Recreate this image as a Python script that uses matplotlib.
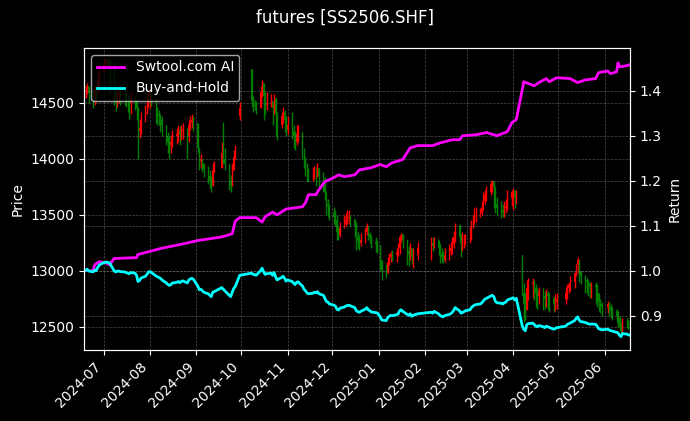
import matplotlib
matplotlib.use("Agg")
import matplotlib.pyplot as plt
import matplotlib.dates as mdates
import numpy as np
import pandas as pd

title = "futures [SS2506.SHF]"
holidays = ["2024-09-16", "2024-09-17", "2024-10-01", "2024-10-02", "2024-10-03",
            "2024-10-04", "2024-10-07", "2025-01-01", "2025-01-28", "2025-01-29",
            "2025-01-30", "2025-01-31", "2025-02-03", "2025-02-04", "2025-04-04",
            "2025-05-01", "2025-05-02", "2025-05-05", "2025-06-02"]

opens = [
    14560, 14600, 14610, 14650, 14590, 14560, 14620, 14600, 14700,
    14780, 14860, 14870, 14880, 14860, 14850, 14600, 14560, 14580, 14590, 14570, 14560, 14540, 14520, 14500, 14540, 14520, 14450, 14250, 14280, 14360, 14420, 14480,
    14560, 14570, 14540, 14430, 14400, 14380, 14350, 14300, 14200, 14150, 14120, 14150, 14200, 14220, 14250, 14210, 14250, 14270, 14200, 14300, 14330, 14350,
    14320, 14100, 13980, 14000, 13950, 13900, 13850, 13800, 13760, 13900, 13920, 14050, 14000, 13950, 13800, 13760, 13900, 14020, 14380,
    14800, 14520, 14480, 14470, 14450, 14600, 14680, 14560, 14480, 14500, 14520, 14450, 14540, 14400, 14300, 14380, 14420, 14350,
    14260, 14300, 14250, 14200, 14150, 14220, 14240, 14100, 14000, 13950, 13880, 13850, 13870, 13900, 13880, 13920, 13850, 13800, 13700, 13600, 13580,
    13520, 13480, 13450, 13350, 13320, 13380, 13420, 13450, 13470, 13480, 13460, 13400, 13300, 13270, 13250, 13280, 13350, 13400, 13330, 13300, 13260, 13240,
    13230, 13100, 13000, 12980, 13080, 13120, 13150, 13140, 13170, 13200, 13300, 13330, 13280, 13180, 13150, 13200, 13120, 13150,
    13200, 13250, 13220, 13280, 13200, 13150, 13120, 13100, 13140, 13180, 13200, 13240, 13300, 13400, 13300, 13220, 13240, 13270,
    13300, 13330, 13400, 13450, 13480, 13500, 13520, 13560, 13620, 13680, 13700, 13780, 13800, 13750, 13600, 13560, 13540, 13520, 13560, 13580, 13650,
    13700, 13720, 13650, 13140, 12800, 12700, 12650, 12850, 12880, 12900, 12850, 12800, 12780, 12820, 12780, 12750, 12800, 12780, 12760, 12700, 12720,
    12750, 12800, 12850, 12880, 12900, 12980, 13050, 13100, 13000, 12950, 12920, 12900, 12880, 12860, 12870, 12860, 12800, 12720, 12700,
    12680, 12700, 12680, 12650, 12640, 12600, 12580, 12500, 12460, 12560, 12540, 12520,
]
closes = [
    14600, 14610, 14650, 14590, 14560, 14620, 14600, 14700, 14780,
    14860, 14870, 14880, 14860, 14850, 14600, 14560, 14580, 14590, 14570, 14560, 14540, 14520, 14500, 14540, 14520, 14450, 14250, 14280, 14360, 14420, 14480, 14560,
    14570, 14540, 14430, 14400, 14380, 14350, 14300, 14200, 14150, 14120, 14150, 14200, 14220, 14250, 14210, 14250, 14270, 14200, 14300, 14330, 14350, 14320,
    14100, 13980, 14000, 13950, 13900, 13850, 13800, 13760, 13900, 13920, 14050, 14000, 13950, 13800, 13760, 13900, 14020, 14080, 14450,
    14520, 14480, 14470, 14450, 14600, 14680, 14560, 14480, 14500, 14520, 14450, 14540, 14400, 14300, 14380, 14420, 14350, 14260,
    14300, 14250, 14200, 14150, 14220, 14240, 14100, 14000, 13950, 13880, 13850, 13870, 13900, 13880, 13920, 13850, 13800, 13700, 13600, 13580, 13520,
    13480, 13450, 13350, 13320, 13380, 13420, 13450, 13470, 13480, 13460, 13400, 13300, 13270, 13250, 13280, 13350, 13400, 13330, 13300, 13260, 13240, 13230,
    13100, 13000, 12980, 13080, 13120, 13150, 13140, 13170, 13200, 13300, 13330, 13280, 13180, 13150, 13200, 13120, 13150, 13200,
    13250, 13220, 13280, 13200, 13150, 13120, 13100, 13140, 13180, 13200, 13240, 13300, 13400, 13300, 13220, 13240, 13270, 13300,
    13330, 13400, 13450, 13480, 13500, 13520, 13560, 13620, 13680, 13700, 13780, 13800, 13750, 13600, 13560, 13540, 13520, 13560, 13580, 13650, 13700,
    13720, 13650, 13700, 12800, 12700, 12650, 12850, 12880, 12900, 12850, 12800, 12780, 12820, 12780, 12750, 12800, 12780, 12760, 12700, 12720, 12750,
    12800, 12850, 12880, 12900, 12980, 13050, 13100, 13000, 12950, 12920, 12900, 12880, 12860, 12870, 12860, 12800, 12720, 12700, 12680,
    12700, 12680, 12650, 12640, 12600, 12580, 12500, 12460, 12560, 12540, 12520, 12500,
]
highs = [
    14660, 14650, 14680, 14640, 14620, 14660, 14650, 14760, 14840,
    14890, 14890, 14895, 14890, 14880, 14860, 14640, 14640, 14660, 14640, 14620, 14600, 14580, 14560, 14600, 14560, 14530, 14460, 14360, 14420, 14480, 14540, 14620,
    14620, 14600, 14520, 14460, 14440, 14400, 14380, 14300, 14240, 14200, 14210, 14260, 14280, 14300, 14290, 14300, 14320, 14280, 14350, 14380, 14400, 14380,
    14220, 14100, 14040, 14000, 13960, 13940, 13900, 13850, 13960, 13980, 14150, 14330, 14100, 13900, 13860, 13960, 14080, 14120, 14510,
    14800, 14560, 14530, 14520, 14650, 14700, 14680, 14600, 14600, 14580, 14520, 14580, 14540, 14420, 14420, 14460, 14440, 14380,
    14380, 14420, 14300, 14250, 14300, 14300, 14170, 14100, 14020, 13960, 13920, 13930, 13940, 13930, 13960, 13920, 13880, 13840, 13700, 13640, 13600,
    13570, 13540, 13500, 13400, 13440, 13500, 13520, 13540, 13540, 13500, 13460, 13440, 13350, 13320, 13340, 13380, 13430, 13400, 13350, 13320, 13300, 13280,
    13200, 13100, 13060, 13120, 13160, 13180, 13190, 13200, 13250, 13320, 13340, 13320, 13260, 13220, 13250, 13200, 13200, 13260,
    13300, 13300, 13300, 13260, 13240, 13200, 13180, 13200, 13240, 13260, 13300, 13360, 13430, 13420, 13330, 13350, 13330, 13330,
    13400, 13450, 13500, 13560, 13570, 13560, 13620, 13700, 13720, 13760, 13800, 13810, 13790, 13760, 13660, 13620, 13600, 13620, 13640, 13720, 13720,
    13740, 13720, 13720, 13140, 12890, 12800, 12920, 12940, 12940, 12920, 12880, 12850, 12860, 12850, 12820, 12840, 12820, 12800, 12780, 12790, 12800,
    12860, 12880, 12900, 12950, 12990, 13060, 13120, 13080, 13000, 12960, 12940, 12920, 12900, 12900, 12900, 12880, 12800, 12750, 12720,
    12730, 12720, 12700, 12680, 12660, 12640, 12600, 12540, 12580, 12580, 12560, 12540,
]
lows = [
    14540, 14540, 14580, 14500, 14450, 14480, 14520, 14580, 14650,
    14780, 14820, 14830, 14800, 14580, 14480, 14430, 14460, 14500, 14480, 14480, 14460, 14420, 14360, 14400, 14440, 14350, 14000, 14190, 14220, 14330, 14400, 14450,
    14450, 14470, 14320, 14300, 14300, 14240, 14200, 14120, 14050, 14000, 14050, 14110, 14130, 14150, 14120, 14170, 14180, 14000, 14150, 14260, 14280, 14250,
    14050, 13900, 13920, 13880, 13840, 13780, 13740, 13700, 13760, 13880, 13950, 13950, 13900, 13720, 13700, 13760, 13900, 14000, 14350,
    14460, 14420, 14440, 14400, 14500, 14550, 14350, 14400, 14440, 14460, 14300, 14400, 14200, 14170, 14280, 14320, 14240, 14200,
    14220, 14180, 14100, 14080, 14120, 14150, 14000, 13920, 13850, 13800, 13790, 13800, 13820, 13760, 13840, 13750, 13700, 13630, 13500, 13480, 13450,
    13420, 13400, 13280, 13280, 13300, 13380, 13400, 13420, 13420, 13400, 13300, 13190, 13200, 13190, 13220, 13250, 13320, 13280, 13250, 13200, 13170, 13160,
    13010, 12920, 12940, 12980, 13050, 13080, 13090, 13080, 13130, 13150, 13260, 13200, 13050, 13040, 13100, 13060, 13030, 13100,
    13100, 13180, 13200, 13140, 13070, 13080, 13070, 13080, 13100, 13140, 13150, 13200, 13260, 13250, 13120, 13180, 13200, 13230,
    13250, 13280, 13380, 13420, 13440, 13480, 13500, 13540, 13600, 13620, 13680, 13700, 13560, 13520, 13500, 13470, 13480, 13480, 13520, 13540, 13580,
    13540, 13560, 13600, 12780, 12540, 12560, 12650, 12740, 12760, 12740, 12680, 12660, 12700, 12650, 12660, 12680, 12650, 12630, 12630, 12640, 12660,
    12700, 12750, 12800, 12820, 12850, 12950, 12980, 12900, 12880, 12800, 12800, 12780, 12760, 12760, 12700, 12680, 12640, 12620, 12600,
    12620, 12600, 12580, 12560, 12540, 12500, 12460, 12420, 12450, 12490, 12480, 12470,
]

ai_dates = ["2024-06-18", "2024-06-24", "2024-06-25", "2024-06-28", "2024-07-02", "2024-07-05",
            "2024-07-08", "2024-07-23", "2024-07-24", "2024-08-09", "2024-08-21", "2024-09-02",
            "2024-09-18", "2024-09-25", "2024-09-27", "2024-09-30", "2024-10-11", "2024-10-15",
            "2024-10-17", "2024-10-22", "2024-10-25", "2024-10-31", "2024-11-11", "2024-11-13",
            "2024-11-15", "2024-11-20", "2024-11-22", "2024-11-26", "2024-12-02", "2024-12-05",
            "2024-12-09", "2024-12-16", "2024-12-19", "2024-12-27", "2025-01-02", "2025-01-06",
            "2025-01-10", "2025-01-17", "2025-01-22", "2025-01-27", "2025-02-06", "2025-02-11",
            "2025-02-19", "2025-02-24", "2025-02-26", "2025-03-07", "2025-03-14", "2025-03-21",
            "2025-03-28", "2025-03-31", "2025-04-03", "2025-04-08", "2025-04-15", "2025-04-18",
            "2025-04-23", "2025-04-25", "2025-04-30", "2025-05-09", "2025-05-14", "2025-05-19",
            "2025-05-26", "2025-05-28", "2025-06-03", "2025-06-05", "2025-06-09", "2025-06-10",
            "2025-06-11", "2025-06-16", "2025-06-18"]
ai_vals = [1.000, 1.000, 1.013, 1.020, 1.018, 1.013,
           1.027, 1.029, 1.036, 1.050, 1.058, 1.067,
           1.075, 1.082, 1.110, 1.118, 1.118, 1.108,
           1.120, 1.130, 1.124, 1.137, 1.142, 1.151,
           1.169, 1.169, 1.180, 1.198, 1.207, 1.213,
           1.209, 1.213, 1.224, 1.229, 1.236, 1.231,
           1.240, 1.247, 1.273, 1.278, 1.278, 1.284,
           1.291, 1.291, 1.300, 1.302, 1.307, 1.300,
           1.309, 1.329, 1.336, 1.420, 1.411, 1.418,
           1.427, 1.420, 1.429, 1.427, 1.418, 1.424,
           1.427, 1.440, 1.444, 1.438, 1.442, 1.462,
           1.453, 1.456, 1.458]

dates = pd.bdate_range("2024-06-18", "2025-06-18")
dates = dates[~dates.isin(pd.to_datetime(holidays))]
n = len(dates)
lens = [len(opens), len(closes), len(highs), len(lows)]
if any(k != n for k in lens):
    raise SystemExit(f"length mismatch: dates={n} lists={lens}")

o = np.array(opens, float)
c = np.array(closes, float)
h = np.maximum(np.array(highs, float), np.maximum(o, c))
l = np.minimum(np.array(lows, float), np.minimum(o, c))
x = mdates.date2num(dates)

plt.style.use("dark_background")
fig = plt.figure(figsize=(6.9, 4.21), dpi=100)
ax = fig.add_axes([0.122, 0.169, 0.791, 0.717])
ax2 = ax.twinx()

cols = np.where(c >= o, "red", "green")
ax.vlines(x, l, h, colors=cols, linewidth=1.0)
ax.bar(x, np.abs(c - o), bottom=np.minimum(o, c), width=0.6, color=cols)

ax2.plot(pd.to_datetime(ai_dates), ai_vals, color="magenta", lw=2, label="Swtool.com AI")
ax2.plot(dates, c / c[0], color="cyan", lw=2, label="Buy-and-Hold")

ax.set_xlim(x[0], x[-1])
ax.set_ylim(12295, 14990)
ax2.set_ylim(0.824, 1.495)

ax.xaxis.set_major_locator(mdates.MonthLocator())
ax.xaxis.set_major_formatter(mdates.DateFormatter("%Y-%m"))
plt.setp(ax.get_xticklabels(), rotation=45, ha="right")

ax.grid(True, linestyle="--", linewidth=0.5, color="gray", alpha=0.6)
ax2.grid(True, axis="y", linestyle="--", linewidth=0.5, color="gray", alpha=0.6)

ax.set_ylabel("Price")
ax2.set_ylabel("Return")
ax2.legend(loc="upper left")
fig.suptitle(title, fontsize=12)

fig.savefig("out.png", dpi=100)
